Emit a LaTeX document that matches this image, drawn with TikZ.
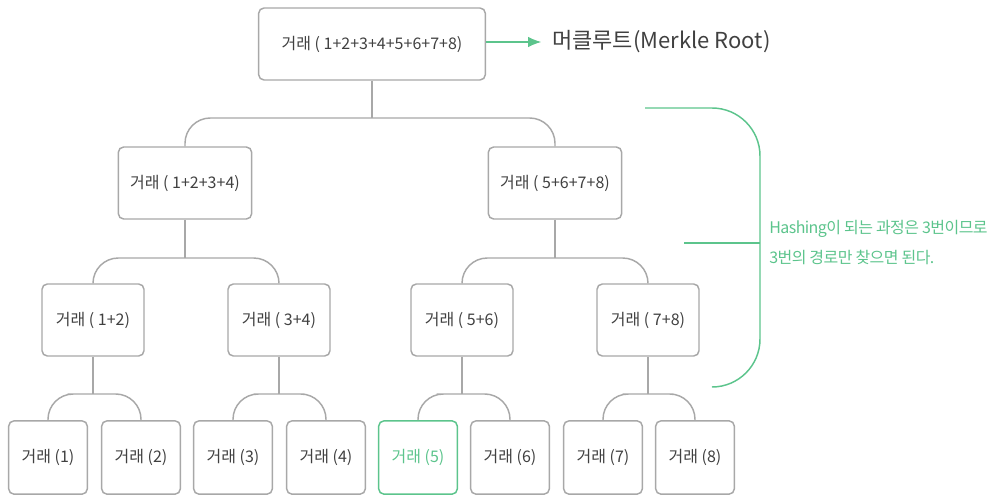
\documentclass[tikz,border=0pt]{standalone}
\usepackage{fontspec}
\setmainfont{Noto Sans CJK KR}
\usetikzlibrary{arrows.meta}
\definecolor{boxgray}{HTML}{A8A8A8}
\definecolor{txtgray}{HTML}{404040}
\definecolor{mgreen}{HTML}{5CC48C}
\begin{document}
\begin{tikzpicture}[x=0.75pt,y=-0.75pt,
  box/.style={draw=boxgray,line width=1.1pt,rounded corners=4pt,text=txtgray,font=\fontsize{12}{14}\selectfont,minimum height=54pt,inner sep=0pt},
  rootbox/.style={box,minimum width=170pt},
  midbox/.style={box,minimum width=100pt},
  lowbox/.style={box,minimum width=76.5pt},
  leafbox/.style={box,minimum width=59pt,minimum height=55pt},
  conn/.style={draw=boxgray,line width=1.1pt,rounded corners=19pt},
  hl/.style={draw=mgreen,text=mgreen}]
\useasboundingbox (0,0) rectangle (989,496);
% nodes
\node[rootbox] (root) at (372,44) {거래 ( 1+2+3+4+5+6+7+8)};
\node[midbox] (a) at (185,183) {거래 ( 1+2+3+4)};
\node[midbox] (b) at (555,183) {거래 ( 5+6+7+8)};
\node[lowbox] (a1) at (93,320) {거래 ( 1+2)};
\node[lowbox] (a2) at (279,320) {거래 ( 3+4)};
\node[lowbox] (b1) at (462,320) {거래 ( 5+6)};
\node[lowbox] (b2) at (648,320) {거래 ( 7+8)};
\node[leafbox] (l1) at (48,457.5) {거래 (1)};
\node[leafbox] (l2) at (141,457.5) {거래 (2)};
\node[leafbox] (l3) at (233,457.5) {거래 (3)};
\node[leafbox] (l4) at (326,457.5) {거래 (4)};
\node[leafbox,hl] (l5) at (418,457.5) {거래 (5)};
\node[leafbox] (l6) at (510,457.5) {거래 (6)};
\node[leafbox] (l7) at (603,457.5) {거래 (7)};
\node[leafbox] (l8) at (695,457.5) {거래 (8)};
% connectors
\coordinate (j0) at (372,118);
\draw[conn] (root.south) -- (j0);
\draw[conn] (a.north) |- (j0) -| (b.north);
\coordinate (ja) at (185,258);
\draw[conn] (a.south) -- (ja);
\draw[conn] (a1.north) |- (ja) -| (a2.north);
\coordinate (jb) at (555,258);
\draw[conn] (b.south) -- (jb);
\draw[conn] (b1.north) |- (jb) -| (b2.north);
\coordinate (k1) at (93,394);
\draw[conn] (a1.south) -- (k1);
\draw[conn] (l1.north) |- (k1) -| (l2.north);
\coordinate (k2) at (279,394);
\draw[conn] (a2.south) -- (k2);
\draw[conn] (l3.north) |- (k2) -| (l4.north);
\coordinate (k3) at (462,394);
\draw[conn] (b1.south) -- (k3);
\draw[conn] (l5.north) |- (k3) -| (l6.north);
\coordinate (k4) at (648,394);
\draw[conn] (b2.south) -- (k4);
\draw[conn] (l7.north) |- (k4) -| (l8.north);
% merkle root label
\node[anchor=west,text=txtgray,font=\fontsize{16.5}{19}\selectfont,inner sep=0pt] (mr) at (552,42) {머클루트(Merkle Root)};
\draw[draw=mgreen,line width=1.1pt,-{Latex[length=10pt,width=8pt]}] (root.east |- mr.west) -- ([xshift=-8pt]mr.west);
% bracket
\coordinate (bt) at (645,108);
\coordinate (bb) at (715,387);
\coordinate (bm) at (684,243);
\draw[draw=mgreen,line width=1.1pt,rounded corners=36pt] (bt) -- (760,108) -- (760,387) -- (bb);
\draw[draw=mgreen,line width=1.1pt] (bm) -- (760,243);
\node[anchor=west,text=mgreen,font=\addfontfeatures{LetterSpace=-3.5}\fontsize{12}{22.5}\selectfont,align=left,inner sep=0pt] (note) at (769,243) {Hashing이 되는 과정은 3번이므로\\3번의 경로만 찾으면 된다.};
\end{tikzpicture}
\end{document}
